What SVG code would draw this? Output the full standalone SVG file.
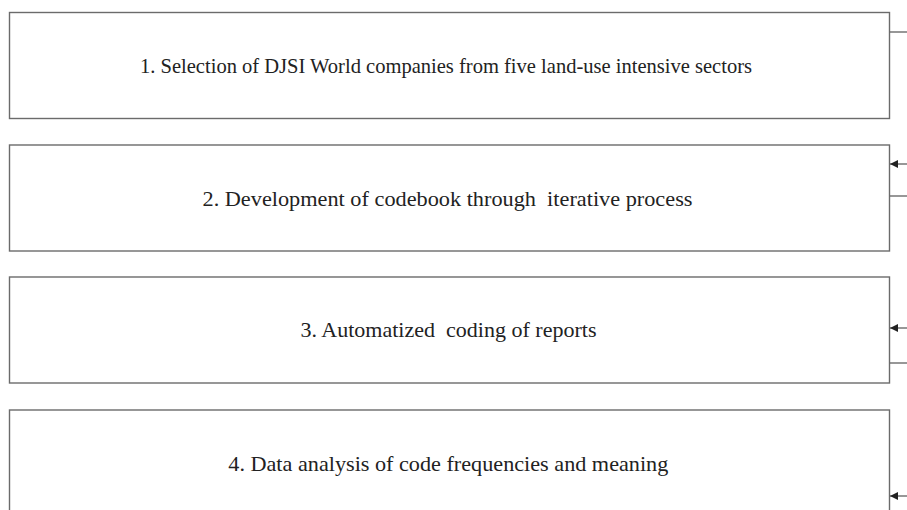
<svg xmlns="http://www.w3.org/2000/svg" width="907" height="510" viewBox="0 0 907 510">
<style>
.box{fill:#fff;stroke:#6b6b6b;stroke-width:1.4}
.t{font-family:"Liberation Serif","Times New Roman",Times,"DejaVu Serif",serif;font-size:22px;fill:#222;text-anchor:middle}
.c{stroke:#6b6b6b;stroke-width:1.4;fill:none}
</style>
<defs>
<marker id="ah" viewBox="0 0 10 10" refX="10" refY="5" markerWidth="9" markerHeight="8" orient="auto" markerUnits="userSpaceOnUse">
<path d="M0,0 L10,5 L0,10 z" fill="#222"/>
</marker>
</defs>
<rect width="907" height="510" fill="#fff"/>
<g id="node1"><rect class="box" x="9.5" y="12.5" width="880" height="106"/><text class="t" x="446" y="73" textLength="612" lengthAdjust="spacingAndGlyphs" xml:space="preserve">1. Selection of DJSI World companies from five land-use intensive sectors</text></g>
<g id="node2"><rect class="box" x="9.5" y="145" width="880" height="106"/><text class="t" x="447.5" y="206" textLength="490" lengthAdjust="spacingAndGlyphs" xml:space="preserve">2. Development of codebook through  iterative process</text></g>
<g id="node3"><rect class="box" x="9.5" y="277" width="880" height="106"/><text class="t" x="448.5" y="337" textLength="296" lengthAdjust="spacingAndGlyphs" xml:space="preserve">3. Automatized  coding of reports</text></g>
<g id="node4"><rect class="box" x="9.5" y="410" width="880" height="110"/><text class="t" x="448.3" y="471" textLength="440" lengthAdjust="spacingAndGlyphs" xml:space="preserve">4. Data analysis of code frequencies and meaning</text></g>
<g id="connectors">
<line class="c" x1="889.5" y1="32" x2="907" y2="32"/>
<line class="c" x1="907" y1="164" x2="890" y2="164" marker-end="url(#ah)"/>
<line class="c" x1="889.5" y1="196" x2="907" y2="196"/>
<line class="c" x1="907" y1="328" x2="890" y2="328" marker-end="url(#ah)"/>
<line class="c" x1="889.5" y1="363" x2="907" y2="363"/>
<line class="c" x1="907" y1="496" x2="890" y2="496" marker-end="url(#ah)"/>
</g>
</svg>
